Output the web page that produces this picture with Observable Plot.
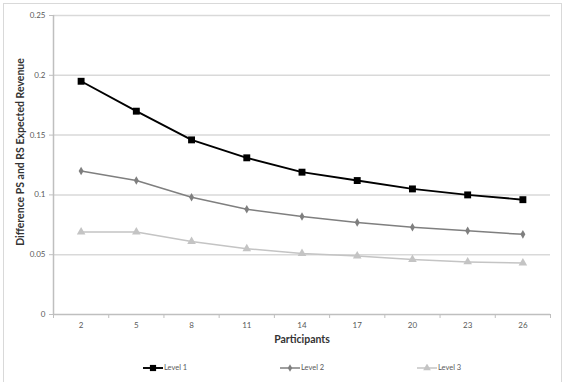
<!DOCTYPE html>
<html>
<head>
<meta charset="utf-8">
<script src="https://cdn.jsdelivr.net/npm/d3@7"></script>
<script src="https://cdn.jsdelivr.net/npm/@observablehq/plot@0.6"></script>
<style>
  body { margin: 0; background: #fff; font-family: Lato, "Open Sans", sans-serif; }
  #wrap { position: relative; width: 567px; height: 382px; overflow: hidden; }
  #frame { position: absolute; left: 3px; top: 3px; width: 557px; height: 400px; border: 1px solid #d9d9d9; }
  #chart { position: absolute; left: 0; top: 0; }
  #legend { position: absolute; left: 143px; top: 363px; display: flex; }
  .item { width: 137px; display: flex; align-items: center; font-size: 7.5px; color: #595959; }
  .item svg { margin-right: 1px; }
</style>
</head>
<body>
<div id="wrap">
  <div id="frame"></div>
  <div id="chart"></div>
  <div id="legend"></div>
</div>
<script>
// Number of participants (x categories)
const participants = [2, 5, 8, 11, 14, 17, 20, 23, 26];

// Difference between PS and RS expected revenue, per level
const level1 = [0.195, 0.170, 0.146, 0.131, 0.119, 0.112, 0.105, 0.100, 0.096];
const level2 = [0.120, 0.112, 0.098, 0.088, 0.082, 0.077, 0.073, 0.070, 0.067];
const level3 = [0.069, 0.069, 0.061, 0.055, 0.051, 0.049, 0.046, 0.044, 0.043];

const seriesNames = ["Level 1", "Level 2", "Level 3"];
const seriesValues = [level1, level2, level3];
const seriesColors = ["#000000", "#7f7f7f", "#c4c4c4"];
const seriesSymbols = ["square", "diamond", "triangle"];
const seriesWidths = [1.9, 1.5, 1.5];
const seriesRadius = [3.9, 2.6, 3.2];

const yTicks = [0, 0.05, 0.1, 0.15, 0.2, 0.25];

// Long-format rows for Plot
const rows = seriesNames.flatMap((name, s) =>
  participants.map((p, i) => ({ series: name, participants: p, value: seriesValues[s][i] }))
);

// Categories are evenly spaced: each one sits in the middle of its own slot
const step = participants[1] - participants[0];
const xDomain = [participants[0] - step / 2, participants[participants.length - 1] + step / 2];
const slotEdges = d3.range(participants.length + 1).map(i => xDomain[0] + i * step);

const axisGray = "#bfbfbf";
const labelGray = "#595959";

const seriesMarks = seriesNames.flatMap((name, s) => {
  const data = rows.filter(d => d.series === name);
  return [
    Plot.line(data, { x: "participants", y: "value", stroke: seriesColors[s], strokeWidth: seriesWidths[s] }),
    Plot.dot(data, { x: "participants", y: "value", symbol: seriesSymbols[s], fill: seriesColors[s], stroke: "none", r: seriesRadius[s] })
  ];
});

const chart = Plot.plot({
  width: 567,
  height: 352,
  marginLeft: 53,
  marginRight: 17,
  marginTop: 15,
  marginBottom: 38,
  style: { fontFamily: "Lato, 'Open Sans', sans-serif", background: "transparent", overflow: "visible" },
  x: { domain: xDomain },
  y: { domain: [0, 0.25] },
  marks: [
    Plot.gridY(yTicks.slice(1), { stroke: "#d9d9d9", strokeOpacity: 1, strokeWidth: 1.5 }),
    // y ticks, then y labels
    Plot.axisY(yTicks, { stroke: axisGray, strokeWidth: 1, tickSize: 4, tickFormat: () => "", label: null }),
    Plot.axisY(yTicks, { fill: labelGray, stroke: "none", fontSize: 8, tickSize: 0, tickPadding: 8, tickFormat: d => String(d), label: null }),
    // x slot edge ticks, then x labels
    Plot.axisX(slotEdges, { stroke: axisGray, strokeWidth: 1, tickSize: 4, tickFormat: () => "", label: null }),
    Plot.axisX(participants, { fill: labelGray, stroke: "none", fontSize: 8, tickSize: 0, tickPadding: 8, tickFormat: d => String(d), label: null }),
    Plot.ruleY([0], { stroke: axisGray, strokeWidth: 1.5 }),
    Plot.ruleX([xDomain[0]], { stroke: axisGray, strokeWidth: 1.5 }),
    ...seriesMarks,
    Plot.text(["Participants"], { frameAnchor: "bottom", dy: 28, fontWeight: "bold", fontSize: 10.5, fill: "#333" }),
    Plot.text(["Difference PS and RS Expected Revenue"], { frameAnchor: "left", textAnchor: "middle", rotate: -90, dx: -33, dy: -13, fontWeight: "bold", fontSize: 10.5, fill: "#333" })
  ]
});
document.getElementById("chart").appendChild(chart);

// Legend below the plot
const legend = d3.select("#legend");
seriesNames.forEach((name, s) => {
  const item = legend.append("div").attr("class", "item");
  const sw = item.append("svg").attr("width", 20).attr("height", 8);
  sw.append("line").attr("x1", 0).attr("x2", 20).attr("y1", 4).attr("y2", 4)
    .attr("stroke", seriesColors[s]).attr("stroke-width", seriesWidths[s]);
  const symType = { square: d3.symbolSquare, diamond: d3.symbolDiamond, triangle: d3.symbolTriangle }[seriesSymbols[s]];
  sw.append("path").attr("transform", "translate(10,4)")
    .attr("d", d3.symbol(symType, Math.PI * seriesRadius[s] * seriesRadius[s] * 0.8)())
    .attr("fill", seriesColors[s]);
  item.append("span").text(name);
});
</script>
</body>
</html>
